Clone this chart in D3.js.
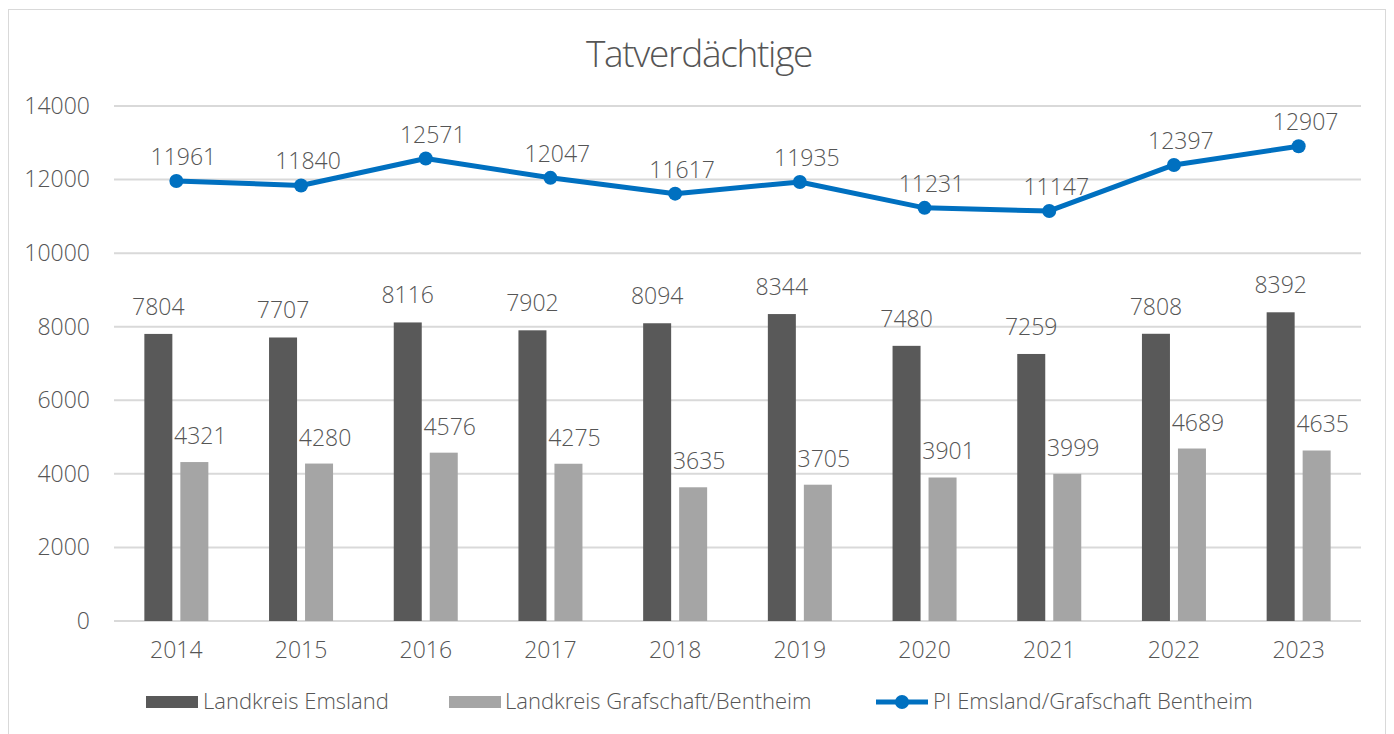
<!DOCTYPE html>
<html><head><meta charset="utf-8">
<script src="https://cdn.jsdelivr.net/npm/d3@7"></script>
<style>body{margin:0;background:#fff;} text{font-family:"Open Sans",sans-serif;font-weight:350;fill:#555555;}</style>
</head><body>
<svg id="c" width="1394" height="734"></svg>
<script>
const years = ["2014","2015","2016","2017","2018","2019","2020","2021","2022","2023"];
const emsland = [7804,7707,8116,7902,8094,8344,7480,7259,7808,8392];
const grafschaft = [4321,4280,4576,4275,3635,3705,3901,3999,4689,4635];
const pi = [11961,11840,12571,12047,11617,11935,11231,11147,12397,12907];
const yTicks = [0,2000,4000,6000,8000,10000,12000,14000];
const seriesNames = ["Landkreis Emsland","Landkreis Grafschaft/Bentheim","PI Emsland/Grafschaft Bentheim"];
const title = "Tatverdächtige";

const svg = d3.select("#c");
svg.append("rect").attr("x",8.5).attr("y",9.5).attr("width",1377).attr("height",740)
  .attr("fill","#fff").attr("stroke","#D9D9D9");

const pL=114, pR=1361, pT=106, pB=621;
const x = d3.scaleBand().domain(years).range([pL,pR]);
const y = d3.scaleLinear().domain([0,14000]).range([pB,pT]);

svg.append("text").attr("x",699).attr("y",67).attr("text-anchor","middle")
  .style("font-size","37px").style("font-weight","300").style("letter-spacing","-1.3px").text(title);

const grid = svg.append("g");
grid.selectAll("line").data(yTicks).join("line")
  .attr("x1",pL).attr("x2",pR).attr("y1",d=>y(d)).attr("y2",d=>y(d))
  .attr("stroke","#D9D9D9").attr("stroke-width",2);

const yAxis = svg.append("g").attr("transform",`translate(${pL},0)`)
  .call(d3.axisLeft(y).tickValues(yTicks).tickSize(0).tickPadding(24).tickFormat(d3.format("d")));
yAxis.select(".domain").remove();
yAxis.selectAll("text").style("font-size","23px").attr("fill","#555555");

const xAxis = svg.append("g").attr("transform",`translate(0,${pB})`)
  .call(d3.axisBottom(x).tickSize(0).tickPadding(21));
xAxis.select(".domain").remove();
xAxis.selectAll("text").style("font-size","23px").attr("fill","#555555");

const bw = 28, gap = 8;
const cx = d => x(d) + x.bandwidth()/2;

svg.append("g").selectAll("rect").data(years).join("rect")
  .attr("x",(d)=>cx(d)-gap/2-bw).attr("width",bw)
  .attr("y",(d,i)=>y(emsland[i])).attr("height",(d,i)=>pB-y(emsland[i]))
  .attr("fill","#595959");
svg.append("g").selectAll("rect").data(years).join("rect")
  .attr("x",(d)=>cx(d)+gap/2).attr("width",bw)
  .attr("y",(d,i)=>y(grafschaft[i])).attr("height",(d,i)=>pB-y(grafschaft[i]))
  .attr("fill","#A5A5A5");

svg.append("g").selectAll("text").data(years).join("text")
  .attr("x",d=>cx(d)-gap/2-bw/2).attr("y",(d,i)=>y(emsland[i])-19)
  .attr("text-anchor","middle").style("font-size","23px").text((d,i)=>emsland[i]);
svg.append("g").selectAll("text").data(years).join("text")
  .attr("x",d=>cx(d)+gap/2+bw/2+6).attr("y",(d,i)=>y(grafschaft[i])-18)
  .attr("text-anchor","middle").style("font-size","23px").text((d,i)=>grafschaft[i]);

const line = d3.line().x((d,i)=>cx(years[i])).y(d=>y(d));
svg.append("path").datum(pi).attr("d",line).attr("fill","none")
  .attr("stroke","#0070C0").attr("stroke-width",5).attr("stroke-linejoin","round");
svg.append("g").selectAll("circle").data(pi).join("circle")
  .attr("cx",(d,i)=>cx(years[i])).attr("cy",d=>y(d)).attr("r",7).attr("fill","#0070C0");
svg.append("g").selectAll("text").data(pi).join("text")
  .attr("x",(d,i)=>cx(years[i])+7).attr("y",d=>y(d)-16)
  .attr("text-anchor","middle").style("font-size","23px").text(d=>d);

// legend
const lg = svg.append("g");
const ly = 702;
lg.append("rect").attr("x",146).attr("y",ly-6).attr("width",52).attr("height",12).attr("fill","#595959");
lg.append("text").attr("x",203).attr("y",ly+7).style("font-size","22px").text(seriesNames[0]);
lg.append("rect").attr("x",449).attr("y",ly-6).attr("width",52).attr("height",12).attr("fill","#A5A5A5");
lg.append("text").attr("x",505).attr("y",ly+7).style("font-size","22px").text(seriesNames[1]);
lg.append("line").attr("x1",876).attr("x2",928).attr("y1",ly).attr("y2",ly).attr("stroke","#0070C0").attr("stroke-width",5);
lg.append("circle").attr("cx",902).attr("cy",ly).attr("r",7).attr("fill","#0070C0");
lg.append("text").attr("x",933).attr("y",ly+7).style("font-size","22px").text(seriesNames[2]);
</script>
</body></html>
